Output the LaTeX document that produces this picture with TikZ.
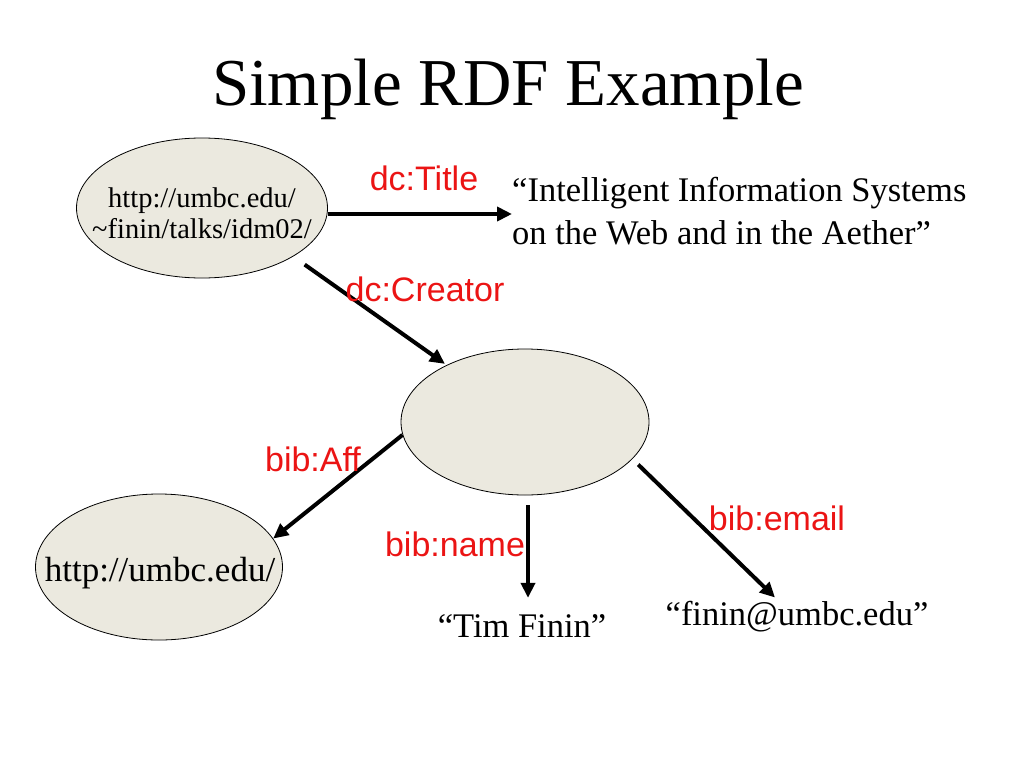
\documentclass[tikz,border=0pt]{standalone}
\usepackage{fontspec}
\setmainfont{Liberation Serif}
\newfontfamily\arialfont{Liberation Sans}
\usetikzlibrary{arrows.meta,shapes.geometric,calc}
\definecolor{ellfill}{RGB}{235,233,223}
\definecolor{labred}{RGB}{235,20,20}
\tikzset{
  res/.style={ellipse, draw=black, line width=0.8pt, fill=ellfill, inner sep=0pt},
  restext/.style={inner sep=0pt, align=center},
  arr/.style={line width=4pt, -{Triangle[length=15pt,width=14pt]}},
  prop/.style={text=labred, font=\arialfont\fontsize{34}{38}\selectfont, inner sep=0pt, anchor=base},
  lit/.style={font=\fontsize{34.5}{43}\selectfont, inner sep=0pt}
}
\begin{document}
\begin{tikzpicture}[x=1pt,y=-1pt]
\useasboundingbox (0,0) rectangle (1024,768);
\node[font=\fontsize{67}{72}\selectfont, inner sep=0pt, anchor=base] (ttl) at (508,105) {Simple RDF Example};

\node[res, minimum width=251pt, minimum height=140pt] (e1) at (202,208) {};
\node[restext, font=\fontsize{28.5}{31}\selectfont] (e1t) at (202,213) {http://umbc.edu/\\\textasciitilde finin/talks/idm02/};
\node[res, minimum width=248pt, minimum height=146pt] (e2) at (525,422) {};
\node[res, minimum width=247pt, minimum height=146pt] (e3) at (159,567) {};
\node[restext, font=\fontsize{35}{38}\selectfont, anchor=base] (e3t) at (160,581) {http://umbc.edu/};

\node[lit, align=left, anchor=north west] (title) at (512,177) {“Intelligent Information Systems\\on the Web and in the Aether”};
\node[lit, anchor=base] (tim) at (522,637) {“Tim Finin”};
\node[lit, anchor=base] (email) at (797,625) {“finin@umbc.edu”};

\draw[arr] ([yshift=-6pt]e1.east) -- ([yshift=-6pt]e1.east -| title.west);
\draw[arr, shorten <=14pt, shorten >=2pt] (e1.-28) -- (e2.144);
\draw[arr] (e2.186) -- (e3.14);
\draw[arr, shorten <=10pt] ([xshift=3pt]e2.south) -- ([xshift=3pt,yshift=16pt]e2.south |- tim.north);
\draw[arr, shorten <=8pt] (e2.-19) -- ([xshift=-22pt,yshift=3pt]email.north);

\node[prop] (ltitle) at (424,190) {dc:Title};
\node[prop] (lcreator) at (425,301) {dc:Creator};
\node[prop] (laff) at (313,471) {bib:Aff};
\node[prop] (lname) at (455,556) {bib:name};
\node[prop] (lemail) at (777,530) {bib:email};
\end{tikzpicture}
\end{document}
